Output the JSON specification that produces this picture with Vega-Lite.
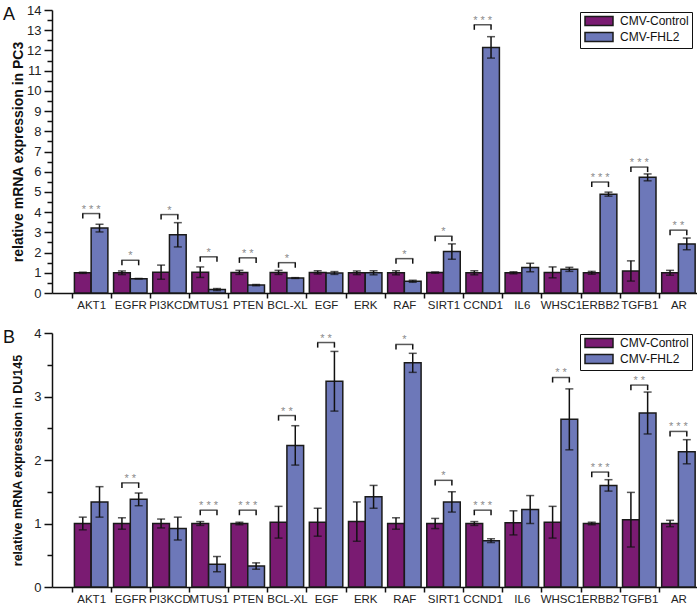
{
  "$schema": "https://vega.github.io/schema/vega-lite/v6.json",
  "background": "white",
  "padding": {"left": 3, "top": 4, "right": 0, "bottom": 0},
  "spacing": 16,
  "config": {
    "view": {"stroke": null},
    "font": "Liberation Sans",
    "axis": {"grid": false, "domainColor": "#111", "domainWidth": 1.5, "tickColor": "#111", "tickWidth": 1.5, "labelColor": "#222", "labelFont": "Liberation Sans", "titleFont": "Liberation Sans", "titleColor": "#111"},
    "legend": {"labelFont": "Liberation Sans", "labelFontSize": 12, "labelColor": "#111"}
  },
  "resolve": {"scale": {"fill": "independent"}},
  "datasets": {
    "pc3": [
      {"gene": "AKT1", "group": "CMV-Control", "value": 1.0, "lo": 0.97, "hi": 1.03},
      {"gene": "AKT1", "group": "CMV-FHL2", "value": 3.21, "lo": 3.02, "hi": 3.40},
      {"gene": "EGFR", "group": "CMV-Control", "value": 1.0, "lo": 0.91, "hi": 1.09},
      {"gene": "EGFR", "group": "CMV-FHL2", "value": 0.71, "lo": 0.70, "hi": 0.72},
      {"gene": "PI3KCD", "group": "CMV-Control", "value": 1.03, "lo": 0.68, "hi": 1.38},
      {"gene": "PI3KCD", "group": "CMV-FHL2", "value": 2.88, "lo": 2.28, "hi": 3.48},
      {"gene": "MTUS1", "group": "CMV-Control", "value": 1.03, "lo": 0.77, "hi": 1.29},
      {"gene": "MTUS1", "group": "CMV-FHL2", "value": 0.17, "lo": 0.12, "hi": 0.22},
      {"gene": "PTEN", "group": "CMV-Control", "value": 1.02, "lo": 0.92, "hi": 1.12},
      {"gene": "PTEN", "group": "CMV-FHL2", "value": 0.39, "lo": 0.36, "hi": 0.42},
      {"gene": "BCL-XL", "group": "CMV-Control", "value": 1.02, "lo": 0.92, "hi": 1.12},
      {"gene": "BCL-XL", "group": "CMV-FHL2", "value": 0.74, "lo": 0.72, "hi": 0.76},
      {"gene": "EGF", "group": "CMV-Control", "value": 1.02, "lo": 0.94, "hi": 1.10},
      {"gene": "EGF", "group": "CMV-FHL2", "value": 0.99, "lo": 0.92, "hi": 1.06},
      {"gene": "ERK", "group": "CMV-Control", "value": 1.0, "lo": 0.91, "hi": 1.09},
      {"gene": "ERK", "group": "CMV-FHL2", "value": 1.0, "lo": 0.90, "hi": 1.10},
      {"gene": "RAF", "group": "CMV-Control", "value": 1.0, "lo": 0.90, "hi": 1.10},
      {"gene": "RAF", "group": "CMV-FHL2", "value": 0.58, "lo": 0.53, "hi": 0.63},
      {"gene": "SIRT1", "group": "CMV-Control", "value": 1.01, "lo": 0.98, "hi": 1.04},
      {"gene": "SIRT1", "group": "CMV-FHL2", "value": 2.05, "lo": 1.67, "hi": 2.43},
      {"gene": "CCND1", "group": "CMV-Control", "value": 1.0, "lo": 0.90, "hi": 1.10},
      {"gene": "CCND1", "group": "CMV-FHL2", "value": 12.15, "lo": 11.62, "hi": 12.68},
      {"gene": "IL6", "group": "CMV-Control", "value": 1.0, "lo": 0.95, "hi": 1.05},
      {"gene": "IL6", "group": "CMV-FHL2", "value": 1.26, "lo": 1.05, "hi": 1.47},
      {"gene": "WHSC1", "group": "CMV-Control", "value": 1.02, "lo": 0.75, "hi": 1.29},
      {"gene": "WHSC1", "group": "CMV-FHL2", "value": 1.17, "lo": 1.07, "hi": 1.27},
      {"gene": "ERBB2", "group": "CMV-Control", "value": 1.0, "lo": 0.93, "hi": 1.07},
      {"gene": "ERBB2", "group": "CMV-FHL2", "value": 4.89, "lo": 4.79, "hi": 4.99},
      {"gene": "TGFB1", "group": "CMV-Control", "value": 1.09, "lo": 0.59, "hi": 1.59},
      {"gene": "TGFB1", "group": "CMV-FHL2", "value": 5.72, "lo": 5.55, "hi": 5.89},
      {"gene": "AR", "group": "CMV-Control", "value": 1.0, "lo": 0.88, "hi": 1.12},
      {"gene": "AR", "group": "CMV-FHL2", "value": 2.43, "lo": 2.14, "hi": 2.72}
    ],
    "pc3sig": [
      {"gene": "AKT1", "top": 3.93, "bottom": 3.68, "stars": "* * *"},
      {"gene": "EGFR", "top": 1.62, "bottom": 1.37, "stars": "*"},
      {"gene": "PI3KCD", "top": 3.88, "bottom": 3.63, "stars": "*"},
      {"gene": "MTUS1", "top": 1.79, "bottom": 1.54, "stars": "*"},
      {"gene": "PTEN", "top": 1.74, "bottom": 1.49, "stars": "* *"},
      {"gene": "BCL-XL", "top": 1.50, "bottom": 1.25, "stars": "*"},
      {"gene": "RAF", "top": 1.70, "bottom": 1.45, "stars": "*"},
      {"gene": "SIRT1", "top": 2.81, "bottom": 2.56, "stars": "*"},
      {"gene": "CCND1", "top": 13.27, "bottom": 13.02, "stars": "* * *"},
      {"gene": "ERBB2", "top": 5.49, "bottom": 5.24, "stars": "* * *"},
      {"gene": "TGFB1", "top": 6.23, "bottom": 5.98, "stars": "* * *"},
      {"gene": "AR", "top": 3.11, "bottom": 2.86, "stars": "* *"}
    ],
    "du145": [
      {"gene": "AKT1", "group": "CMV-Control", "value": 1.0, "lo": 0.90, "hi": 1.10},
      {"gene": "AKT1", "group": "CMV-FHL2", "value": 1.34, "lo": 1.10, "hi": 1.58},
      {"gene": "EGFR", "group": "CMV-Control", "value": 1.0, "lo": 0.91, "hi": 1.09},
      {"gene": "EGFR", "group": "CMV-FHL2", "value": 1.38, "lo": 1.28, "hi": 1.48},
      {"gene": "PI3KCD", "group": "CMV-Control", "value": 1.0, "lo": 0.93, "hi": 1.07},
      {"gene": "PI3KCD", "group": "CMV-FHL2", "value": 0.92, "lo": 0.74, "hi": 1.10},
      {"gene": "MTUS1", "group": "CMV-Control", "value": 1.0, "lo": 0.97, "hi": 1.03},
      {"gene": "MTUS1", "group": "CMV-FHL2", "value": 0.36, "lo": 0.24, "hi": 0.48},
      {"gene": "PTEN", "group": "CMV-Control", "value": 1.0, "lo": 0.98, "hi": 1.02},
      {"gene": "PTEN", "group": "CMV-FHL2", "value": 0.33, "lo": 0.28, "hi": 0.38},
      {"gene": "BCL-XL", "group": "CMV-Control", "value": 1.02, "lo": 0.77, "hi": 1.27},
      {"gene": "BCL-XL", "group": "CMV-FHL2", "value": 2.23, "lo": 1.92, "hi": 2.54},
      {"gene": "EGF", "group": "CMV-Control", "value": 1.02, "lo": 0.80, "hi": 1.24},
      {"gene": "EGF", "group": "CMV-FHL2", "value": 3.24, "lo": 2.77, "hi": 3.71},
      {"gene": "ERK", "group": "CMV-Control", "value": 1.03, "lo": 0.72, "hi": 1.34},
      {"gene": "ERK", "group": "CMV-FHL2", "value": 1.42, "lo": 1.24, "hi": 1.60},
      {"gene": "RAF", "group": "CMV-Control", "value": 1.0, "lo": 0.91, "hi": 1.09},
      {"gene": "RAF", "group": "CMV-FHL2", "value": 3.53, "lo": 3.38, "hi": 3.68},
      {"gene": "SIRT1", "group": "CMV-Control", "value": 1.0, "lo": 0.92, "hi": 1.08},
      {"gene": "SIRT1", "group": "CMV-FHL2", "value": 1.34, "lo": 1.18, "hi": 1.50},
      {"gene": "CCND1", "group": "CMV-Control", "value": 1.0, "lo": 0.97, "hi": 1.03},
      {"gene": "CCND1", "group": "CMV-FHL2", "value": 0.73, "lo": 0.70, "hi": 0.76},
      {"gene": "IL6", "group": "CMV-Control", "value": 1.01, "lo": 0.82, "hi": 1.20},
      {"gene": "IL6", "group": "CMV-FHL2", "value": 1.22, "lo": 1.00, "hi": 1.44},
      {"gene": "WHSC1", "group": "CMV-Control", "value": 1.02, "lo": 0.77, "hi": 1.27},
      {"gene": "WHSC1", "group": "CMV-FHL2", "value": 2.64, "lo": 2.16, "hi": 3.12},
      {"gene": "ERBB2", "group": "CMV-Control", "value": 1.0, "lo": 0.98, "hi": 1.02},
      {"gene": "ERBB2", "group": "CMV-FHL2", "value": 1.60, "lo": 1.51, "hi": 1.69},
      {"gene": "TGFB1", "group": "CMV-Control", "value": 1.06, "lo": 0.63, "hi": 1.49},
      {"gene": "TGFB1", "group": "CMV-FHL2", "value": 2.74, "lo": 2.41, "hi": 3.07},
      {"gene": "AR", "group": "CMV-Control", "value": 1.0, "lo": 0.95, "hi": 1.05},
      {"gene": "AR", "group": "CMV-FHL2", "value": 2.13, "lo": 1.94, "hi": 2.32}
    ],
    "du145sig": [
      {"gene": "EGFR", "top": 1.64, "bottom": 1.56, "stars": "* *"},
      {"gene": "MTUS1", "top": 1.21, "bottom": 1.13, "stars": "* * *"},
      {"gene": "PTEN", "top": 1.21, "bottom": 1.13, "stars": "* * *"},
      {"gene": "BCL-XL", "top": 2.70, "bottom": 2.62, "stars": "* *"},
      {"gene": "EGF", "top": 3.85, "bottom": 3.77, "stars": "* *"},
      {"gene": "RAF", "top": 3.82, "bottom": 3.74, "stars": "*"},
      {"gene": "SIRT1", "top": 1.68, "bottom": 1.60, "stars": "*"},
      {"gene": "CCND1", "top": 1.21, "bottom": 1.13, "stars": "* * *"},
      {"gene": "WHSC1", "top": 3.30, "bottom": 3.22, "stars": "* *"},
      {"gene": "ERBB2", "top": 1.81, "bottom": 1.73, "stars": "* * *"},
      {"gene": "TGFB1", "top": 3.18, "bottom": 3.10, "stars": "* *"},
      {"gene": "AR", "top": 2.45, "bottom": 2.37, "stars": "* * *"}
    ]
  },
  "vconcat": [
    {
      "width": 646,
      "height": 283,
      "title": {"text": "A", "anchor": "start", "frame": "bounds", "orient": "top", "offset": -20, "dx": -8, "fontSize": 18, "fontWeight": "normal", "color": "#111"},
      "resolve": {"axis": {"y": "independent"}},
      "encoding": {
        "x": {"field": "gene", "type": "nominal",
          "scale": {"domain": ["AKT1","EGFR","PI3KCD","MTUS1","PTEN","BCL-XL","EGF","ERK","RAF","SIRT1","CCND1","IL6","WHSC1","ERBB2","TGFB1","AR"], "paddingInner": 0, "paddingOuter": 0.25, "align": 1},
          "axis": {"title": null, "labelAngle": 0, "tickBand": "extent", "tickSize": 5, "labelPadding": 1, "labelFontSize": 11.5, "labelOverlap": false, "labelBound": false}}
      },
      "layer": [
        {
          "data": {"name": "pc3"},
          "mark": {"type": "bar", "stroke": "#1a1a1a", "strokeWidth": 1.5},
          "encoding": {
            "xOffset": {"field": "group", "type": "nominal", "scale": {"domain": ["CMV-Control", "CMV-FHL2"], "paddingInner": 0, "paddingOuter": 0.17}},
            "y": {"field": "value", "type": "quantitative", "title": "relative mRNA expression in PC3",
              "scale": {"domain": [0, 14], "nice": false},
              "axis": {"orient": "left", "values": [0,1,2,3,4,5,6,7,8,9,10,11,12,13,14], "format": "d",
                "tickSize": 8, "labelFontSize": 13, "labelPadding": 3, "labelOverlap": false,
                "titleFontSize": 14, "titleFontWeight": "bold", "titlePadding": 1, "minExtent": 26, "maxExtent": 26}},
            "fill": {"field": "group", "type": "nominal",
              "scale": {"domain": ["CMV-Control", "CMV-FHL2"], "range": ["#7a1b72", "#6d78b9"]},
              "legend": {"title": null, "orient": "none", "legendX": 528, "legendY": 2, "strokeColor": "#111", "padding": 3, "symbolType": "M-1,-1.1H6V1.1H-1Z", "symbolSize": 64, "symbolStrokeColor": "#1a1a1a", "symbolStrokeWidth": 1.5, "labelOffset": 25, "rowPadding": 0, "fillColor": "white"}}
          }
        },
        {
          "data": {"name": "pc3"},
          "mark": {"type": "rule", "color": "#111", "strokeWidth": 1.5},
          "encoding": {
            "xOffset": {"field": "group", "type": "nominal"},
            "y": {"field": "lo", "type": "quantitative",
              "axis": {"orient": "left", "values": [0.5,1.5,2.5,3.5,4.5,5.5,6.5,7.5,8.5,9.5,10.5,11.5,12.5,13.5], "labels": false, "domain": false, "title": null, "tickSize": 5, "minExtent": 0, "maxExtent": 0}},
            "y2": {"field": "hi"}
          }
        },
        {
          "data": {"name": "pc3"},
          "mark": {"type": "tick", "color": "#111", "size": 8, "thickness": 1.5},
          "encoding": {
            "xOffset": {"field": "group", "type": "nominal"},
            "y": {"field": "lo", "type": "quantitative", "axis": null}
          }
        },
        {
          "data": {"name": "pc3"},
          "mark": {"type": "tick", "color": "#111", "size": 8, "thickness": 1.5},
          "encoding": {
            "xOffset": {"field": "group", "type": "nominal"},
            "y": {"field": "hi", "type": "quantitative", "axis": null}
          }
        },
        {
          "data": {"name": "pc3sig"},
          "mark": {"type": "rule", "color": "#111", "strokeWidth": 1.5},
          "encoding": {
            "xOffset": {"datum": "CMV-Control"},
            "y": {"field": "top", "type": "quantitative", "axis": null},
            "y2": {"field": "bottom"}
          }
        },
        {
          "data": {"name": "pc3sig"},
          "mark": {"type": "rule", "color": "#111", "strokeWidth": 1.5},
          "encoding": {
            "xOffset": {"datum": "CMV-FHL2"},
            "y": {"field": "top", "type": "quantitative", "axis": null},
            "y2": {"field": "bottom"}
          }
        },
        {
          "data": {"name": "pc3sig"},
          "mark": {"type": "tick", "color": "#111", "size": 18, "thickness": 1.5},
          "encoding": {
            "y": {"field": "top", "type": "quantitative", "axis": null}
          }
        },
        {
          "data": {"name": "pc3sig"},
          "mark": {"type": "text", "color": "#8a8a8a", "fontSize": 11, "dy": -1, "baseline": "alphabetic"},
          "encoding": {
            "y": {"field": "top", "type": "quantitative", "axis": null},
            "text": {"field": "stars"}
          }
        }
      ]
    },
    {
      "width": 646,
      "height": 254,
      "title": {"text": "B", "anchor": "start", "frame": "bounds", "orient": "top", "offset": -20, "dx": -8, "fontSize": 18, "fontWeight": "normal", "color": "#111"},
      "resolve": {"axis": {"y": "independent"}},
      "encoding": {
        "x": {"field": "gene", "type": "nominal",
          "scale": {"domain": ["AKT1","EGFR","PI3KCD","MTUS1","PTEN","BCL-XL","EGF","ERK","RAF","SIRT1","CCND1","IL6","WHSC1","ERBB2","TGFB1","AR"], "paddingInner": 0, "paddingOuter": 0.25, "align": 1},
          "axis": {"title": null, "labelAngle": 0, "tickBand": "extent", "tickSize": 5, "labelPadding": 1, "labelFontSize": 11.5, "labelOverlap": false, "labelBound": false}}
      },
      "layer": [
        {
          "data": {"name": "du145"},
          "mark": {"type": "bar", "stroke": "#1a1a1a", "strokeWidth": 1.5},
          "encoding": {
            "xOffset": {"field": "group", "type": "nominal", "scale": {"domain": ["CMV-Control", "CMV-FHL2"], "paddingInner": 0, "paddingOuter": 0.17}},
            "y": {"field": "value", "type": "quantitative", "title": "relative mRNA expression in DU145",
              "scale": {"domain": [0, 4], "nice": false},
              "axis": {"orient": "left", "values": [0,1,2,3,4], "format": "d",
                "tickSize": 8, "labelFontSize": 13, "labelPadding": 3, "labelOverlap": false,
                "titleFontSize": 12.5, "titleFontWeight": "bold", "titlePadding": 2, "minExtent": 26, "maxExtent": 26}},
            "fill": {"field": "group", "type": "nominal",
              "scale": {"domain": ["CMV-Control", "CMV-FHL2"], "range": ["#7a1b72", "#6d78b9"]},
              "legend": {"title": null, "orient": "none", "legendX": 528, "legendY": 1, "strokeColor": "#111", "padding": 3, "symbolType": "M-1,-1.1H6V1.1H-1Z", "symbolSize": 64, "symbolStrokeColor": "#1a1a1a", "symbolStrokeWidth": 1.5, "labelOffset": 25, "rowPadding": 0, "fillColor": "white"}}
          }
        },
        {
          "data": {"name": "du145"},
          "mark": {"type": "rule", "color": "#111", "strokeWidth": 1.5},
          "encoding": {
            "xOffset": {"field": "group", "type": "nominal"},
            "y": {"field": "lo", "type": "quantitative",
              "axis": {"orient": "left", "values": [0.5,1.5,2.5,3.5], "labels": false, "domain": false, "title": null, "tickSize": 5, "minExtent": 0, "maxExtent": 0}},
            "y2": {"field": "hi"}
          }
        },
        {
          "data": {"name": "du145"},
          "mark": {"type": "tick", "color": "#111", "size": 8, "thickness": 1.5},
          "encoding": {
            "xOffset": {"field": "group", "type": "nominal"},
            "y": {"field": "lo", "type": "quantitative", "axis": null}
          }
        },
        {
          "data": {"name": "du145"},
          "mark": {"type": "tick", "color": "#111", "size": 8, "thickness": 1.5},
          "encoding": {
            "xOffset": {"field": "group", "type": "nominal"},
            "y": {"field": "hi", "type": "quantitative", "axis": null}
          }
        },
        {
          "data": {"name": "du145sig"},
          "mark": {"type": "rule", "color": "#111", "strokeWidth": 1.5},
          "encoding": {
            "xOffset": {"datum": "CMV-Control"},
            "y": {"field": "top", "type": "quantitative", "axis": null},
            "y2": {"field": "bottom"}
          }
        },
        {
          "data": {"name": "du145sig"},
          "mark": {"type": "rule", "color": "#111", "strokeWidth": 1.5},
          "encoding": {
            "xOffset": {"datum": "CMV-FHL2"},
            "y": {"field": "top", "type": "quantitative", "axis": null},
            "y2": {"field": "bottom"}
          }
        },
        {
          "data": {"name": "du145sig"},
          "mark": {"type": "tick", "color": "#111", "size": 18, "thickness": 1.5},
          "encoding": {
            "y": {"field": "top", "type": "quantitative", "axis": null}
          }
        },
        {
          "data": {"name": "du145sig"},
          "mark": {"type": "text", "color": "#8a8a8a", "fontSize": 11, "dy": -1, "baseline": "alphabetic"},
          "encoding": {
            "y": {"field": "top", "type": "quantitative", "axis": null},
            "text": {"field": "stars"}
          }
        }
      ]
    }
  ]
}
